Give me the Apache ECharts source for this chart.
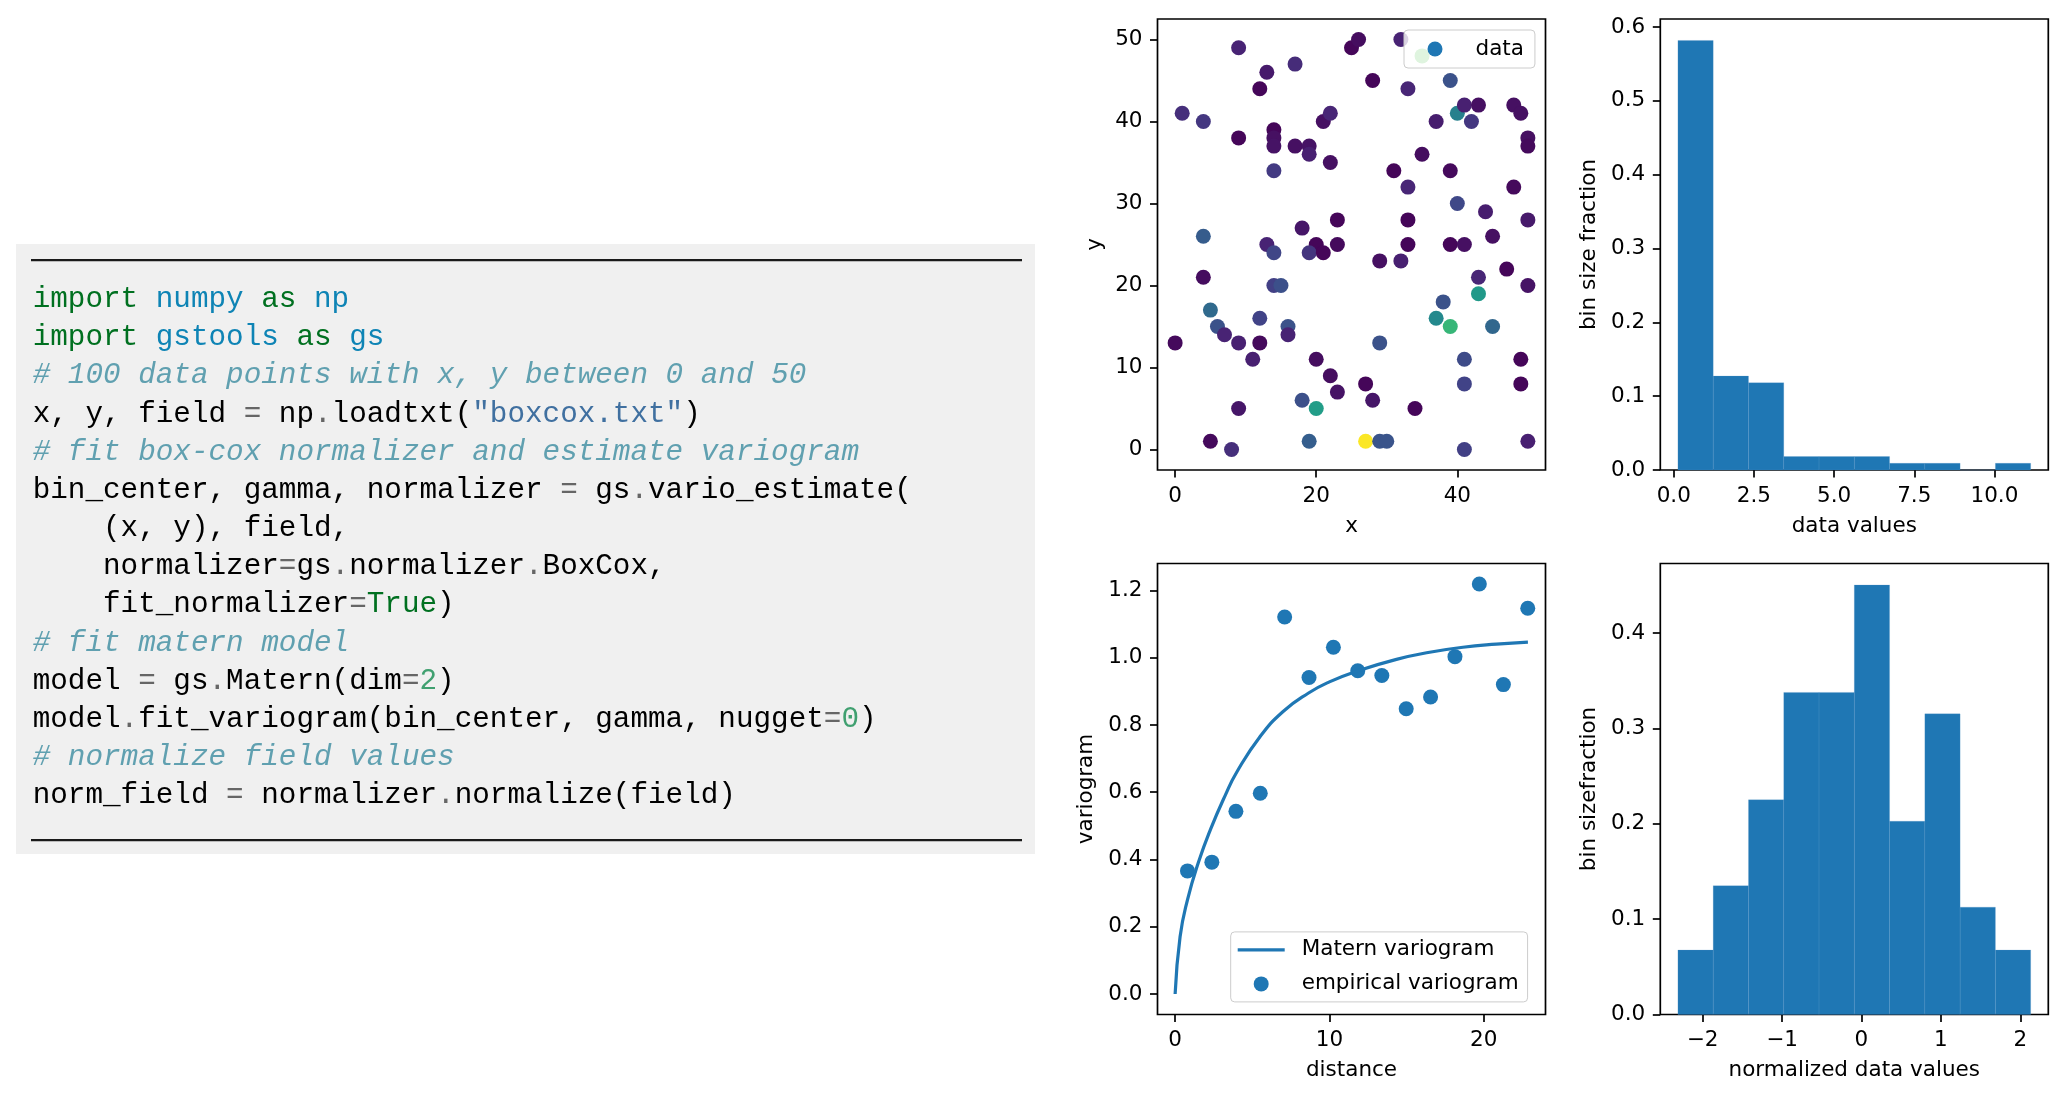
<!DOCTYPE html>
<html><head><meta charset="utf-8">
<script src="https://cdn.jsdelivr.net/npm/echarts@6/dist/echarts.min.js"></script>
<style>html,body{margin:0;padding:0;background:#fff}#c{width:2067px;height:1095px}</style>
</head><body><div id="c"></div>
<script>
// ---------- data ----------
const pointX = [1,4,9,9,12,13,17,14,14,14,14,17,19,19,21,22,22,25,26,28,32,33,39,40,41,43,42,37,48,49,50,50,35,31,39,33,40,44,48,50,33,23,18,4,13,14,20,19,21,23,33,39,41,45,29,32,47,43,4,35,
  14,15,50,43,38,5,37,39,45,6,7,12,16,16,0,9,12,11,20,29,41,49,22,23,27,28,18,20,9,34,41,49,5,8,19,27,29,30,41,50];
const pointY = [41,40,49,38,44,46,47,39,38,37,34,37,37,36,40,41,35,49,50,45,50,44,45,41,42,42,40,40,42,41,38,37,36,34,34,32,30,29,32,28,28,28,27,26,25,24,25,24,24,25,25,25,25,26,23,23,22,21,21,48,
  20,20,20,19,18,17,16,15,15,15,14,16,15,14,13,13,13,11,11,13,11,11,9,7,8,6,6,5,5,5,8,8,1,0,1,1,1,1,0,1];
const pointField = [1.6,1.9,1.2,0.3,0.3,0.9,1.5,0.3,0.6,0.7,2.0,0.6,0.7,1.1,0.6,1.3,0.6,0.3,0.5,0.3,1.2,1.3,2.9,4.9,1.1,0.6,1.9,1.0,0.6,0.6,0.6,0.4,0.5,0.3,0.4,1.3,2.5,1.0,0.4,0.9,0.3,0.3,0.8,3.3,1.2,2.4,0.3,1.8,0.3,0.4,0.3,0.3,0.6,0.6,0.6,1.1,0.3,1.3,0.5,8.4,
  2.2,2.8,0.7,6.0,2.9,3.9,5.3,7.4,3.8,2.9,1.2,2.3,2.9,1.2,0.4,1.1,0.4,1.1,0.5,2.9,2.6,0.3,0.5,0.7,0.3,0.8,2.8,6.2,0.8,0.3,2.3,0.3,0.4,1.6,3.4,11.1,3.0,3.0,2.2,1.1];

const hist1Edges = [0.13,1.23,2.33,3.43,4.53,5.63,6.73,7.83,8.93,10.03,11.13];
const hist1Heights = [0.5818,0.1273,0.1182,0.0182,0.0182,0.0182,0.0091,0.0091,0,0.0091];

const hist2Edges = [-2.31,-1.866,-1.422,-0.978,-0.534,-0.09,0.354,0.798,1.242,1.686,2.13];
const hist2Heights = [0.0676,0.1351,0.2252,0.3378,0.3378,0.4505,0.2027,0.3153,0.1126,0.0676];

const binCenters = [0.80,2.38,3.94,5.52,7.10,8.68,10.26,11.84,13.40,14.98,16.56,18.14,19.72,21.28,22.86];
const gammaValues = [0.366,0.392,0.543,0.597,1.121,0.941,1.031,0.961,0.947,0.848,0.883,1.003,1.219,0.920,1.147];

const maternX = [0,0.32,0.8,1.5,2.3,3.24,4.0,5.5,7.0,8.65,10.0,11.8,14.35,16.5,18.66,20.82,22.87];
const maternY = [0,0.17,0.28,0.39,0.49,0.59,0.66,0.765,0.84,0.895,0.928,0.960,0.995,1.016,1.031,1.040,1.046];

const scatterXTicks = [0,20,40];
const scatterYTicks = [0,10,20,30,40,50];
const hist1XTicks = [0,2.5,5,7.5,10];
const hist1YTicks = [0,0.1,0.2,0.3,0.4,0.5,0.6];
const varioXTicks = [0,10,20];
const varioYTicks = [0,0.2,0.4,0.6,0.8,1.0,1.2];
const hist2XTicks = [-2,-1,0,1,2];
const hist2YTicks = [0,0.1,0.2,0.3,0.4];

const codeLines = [
  [['kw','import'],['t',' '],['ns','numpy'],['t',' '],['kw','as'],['t',' '],['ns','np']],
  [['kw','import'],['t',' '],['ns','gstools'],['t',' '],['kw','as'],['t',' '],['ns','gs']],
  [['cm','# 100 data points with x, y between 0 and 50']],
  [['t','x, y, field '],['op','='],['t',' np'],['op','.'],['t','loadtxt('],['st','"boxcox.txt"'],['t',')']],
  [['cm','# fit box-cox normalizer and estimate variogram']],
  [['t','bin_center, gamma, normalizer '],['op','='],['t',' gs'],['op','.'],['t','vario_estimate(']],
  [['t','    (x, y), field,']],
  [['t','    normalizer'],['op','='],['t','gs'],['op','.'],['t','normalizer'],['op','.'],['t','BoxCox,']],
  [['t','    fit_normalizer'],['op','='],['kw','True'],['t',')']],
  [['cm','# fit matern model']],
  [['t','model '],['op','='],['t',' gs'],['op','.'],['t','Matern(dim'],['op','='],['num','2'],['t',')']],
  [['t','model'],['op','.'],['t','fit_variogram(bin_center, gamma, nugget'],['op','='],['num','0'],['t',')']],
  [['cm','# normalize field values']],
  [['t','norm_field '],['op','='],['t',' normalizer'],['op','.'],['t','normalize(field)']]
];

// ---------- styling ----------
const FONT = 'DejaVu Sans';
const FS = 21.5;
const BLUE = '#1f77b4';
const viridis = ['#440154','#482475','#414487','#355f8d','#2a788e','#21918c','#22a884','#44bf70','#7ad151','#bddf26','#fde725'];

const G = [
  {left:1157.5, top:19, width:388, height:451},
  {left:1660.3, top:19, width:388, height:451},
  {left:1157.5, top:563.5, width:388, height:451},
  {left:1660.3, top:563.5, width:388, height:451}
];

function axis(gi, min, max, ticks, fmt, name, gap) {
  return {
    type:'value', gridIndex:gi, min:min, max:max,
    name:name, nameLocation:'middle', nameGap:gap,
    nameTextStyle:{fontFamily:FONT, fontSize:FS, color:'#000'},
    axisLine:{show:false, onZero:false},
    axisTick:{show:true, customValues:ticks, length:7.5, lineStyle:{color:'#000', width:1.7}},
    axisLabel:{show:true, customValues:ticks, formatter:fmt, margin:15, fontFamily:FONT, fontSize:FS, color:'#000'},
    splitLine:{show:false}
  };
}
const f1 = v => Number(v).toFixed(1);
const fi = v => String(Math.round(v));
const fm = v => v < 0 ? '\u2212' + Math.abs(v) : String(v);

function histData(edges, h) {
  return h.map((v,i) => [edges[i], edges[i+1], v]);
}
function renderBar(params, api) {
  const p0 = api.coord([api.value(0), api.value(2)]);
  const p1 = api.coord([api.value(1), 0]);
  return {type:'rect', shape:{x:p0[0], y:p0[1], width:p1[0]-p0[0], height:p1[1]-p0[1]},
          style:{fill:BLUE, stroke:'rgba(90,150,200,0.35)', lineWidth:0.6}};
}

// code block graphics
const MONO = {fontFamily:'Liberation Mono', fontSize:29.3};
const rich = {
  t:Object.assign({fill:'#000'}, MONO),
  kw:Object.assign({fill:'#007020'}, MONO),
  ns:Object.assign({fill:'#0e84b5'}, MONO),
  cm:Object.assign({fill:'#60a0b0', fontStyle:'italic'}, MONO),
  op:Object.assign({fill:'#666666'}, MONO),
  st:Object.assign({fill:'#4070a0'}, MONO),
  num:Object.assign({fill:'#40a070'}, MONO)
};
const graphics = [
  {type:'rect', shape:{x:16, y:244, width:1019, height:610}, style:{fill:'#f0f0f0'}, z:-10},
  {type:'rect', shape:{x:31, y:259, width:991, height:2.2}, style:{fill:'#1a1a1a'}},
  {type:'rect', shape:{x:31, y:839, width:991, height:2.2}, style:{fill:'#1a1a1a'}}
];
codeLines.forEach((line, i) => {
  const txt = line.map(tk => '{' + tk[0] + '|' + tk[1] + '}').join('');
  graphics.push({type:'text', x:32.7, y:299.4 + i*38.15,
    style:{text:txt, rich:rich, fontFamily:'Liberation Mono', fontSize:29.3, fill:'#000', align:'left', verticalAlign:'middle'}});
});

const legendBox = {
  backgroundColor:'rgba(255,255,255,0.8)', borderColor:'#cccccc', borderWidth:1, borderRadius:4,
  selectedMode:false, itemGap:10
};
const LINE_ICON = 'path://M0,0 L47,0 L47,3.2 L0,3.2 Z';

const option = {
  animation:false,
  backgroundColor:'#ffffff',
  grid: G.map(g => Object.assign({show:true, borderColor:'#000', borderWidth:1.7, backgroundColor:'transparent', containLabel:false}, g)),
  xAxis:[
    axis(0, -2.5, 52.5, scatterXTicks, fi, 'x', 45),
    axis(1, -0.42, 11.68, hist1XTicks, f1, 'data values', 45),
    axis(2, -1.1435, 24.01, varioXTicks, fi, 'distance', 45),
    axis(3, -2.532, 2.352, hist2XTicks, fm, 'normalized data values', 45)
  ],
  yAxis:[
    axis(0, -2.5, 52.5, scatterYTicks, fi, 'y', 51),
    axis(1, 0, 0.6109, hist1YTicks, f1, 'bin size fraction', 60),
    axis(2, -0.061, 1.28, varioYTicks, f1, 'variogram', 60),
    axis(3, 0, 0.473, hist2YTicks, f1, 'bin sizefraction', 60)
  ],
  visualMap:[{type:'continuous', show:false, seriesIndex:0, dimension:2, min:0.13, max:11.13, inRange:{color:viridis}}],
  legend:[
    Object.assign({}, legendBox, {
      data:[{name:'data', icon:'circle', itemStyle:{color:BLUE}}],
      left:1404, top:30, itemWidth:15, itemHeight:15, padding:[7,11,7,23.5],
      formatter:'{g|}{name}',
      textStyle:{fontFamily:FONT, fontSize:FS, color:'#000', lineHeight:24, rich:{g:{width:28}}}
    }),
    Object.assign({}, legendBox, {
      data:[{name:'Matern variogram', icon:LINE_ICON, itemStyle:{color:BLUE}},
            {name:'empirical variogram', icon:'circle', itemStyle:{color:BLUE}}],
      orient:'vertical', left:1230.7, top:931.9, itemWidth:47, itemHeight:15, padding:[6,9,6,7],
      textStyle:{fontFamily:FONT, fontSize:FS, color:'#000', lineHeight:24, padding:[0,0,0,12]}
    })
  ],
  series:[
    {name:'data', type:'scatter', xAxisIndex:0, yAxisIndex:0, symbolSize:15,
     data: pointX.map((x,i) => [x, pointY[i], pointField[i]]),
     itemStyle:{color:BLUE, opacity:1}, emphasis:{disabled:true}},
    {name:'hist1', type:'custom', xAxisIndex:1, yAxisIndex:1, renderItem:renderBar,
     encode:{x:[0,1], y:2}, data:histData(hist1Edges, hist1Heights)},
    {name:'Matern variogram', type:'line', xAxisIndex:2, yAxisIndex:2, showSymbol:false, symbol:'none',
     smooth:0.5,
     data: maternX.map((x,i) => [x, maternY[i]]), lineStyle:{color:BLUE, width:3.2}, itemStyle:{color:BLUE}, emphasis:{disabled:true}},
    {name:'empirical variogram', type:'scatter', xAxisIndex:2, yAxisIndex:2, symbolSize:15,
     data: binCenters.map((x,i) => [x, gammaValues[i]]), itemStyle:{color:BLUE, opacity:1}, emphasis:{disabled:true}},
    {name:'hist2', type:'custom', xAxisIndex:3, yAxisIndex:3, renderItem:renderBar,
     encode:{x:[0,1], y:2}, data:histData(hist2Edges, hist2Heights)}
  ],
  graphic: graphics
};
const chart = echarts.init(document.getElementById('c'), null, {renderer:'canvas'});
chart.setOption(option);
</script>
</body></html>
